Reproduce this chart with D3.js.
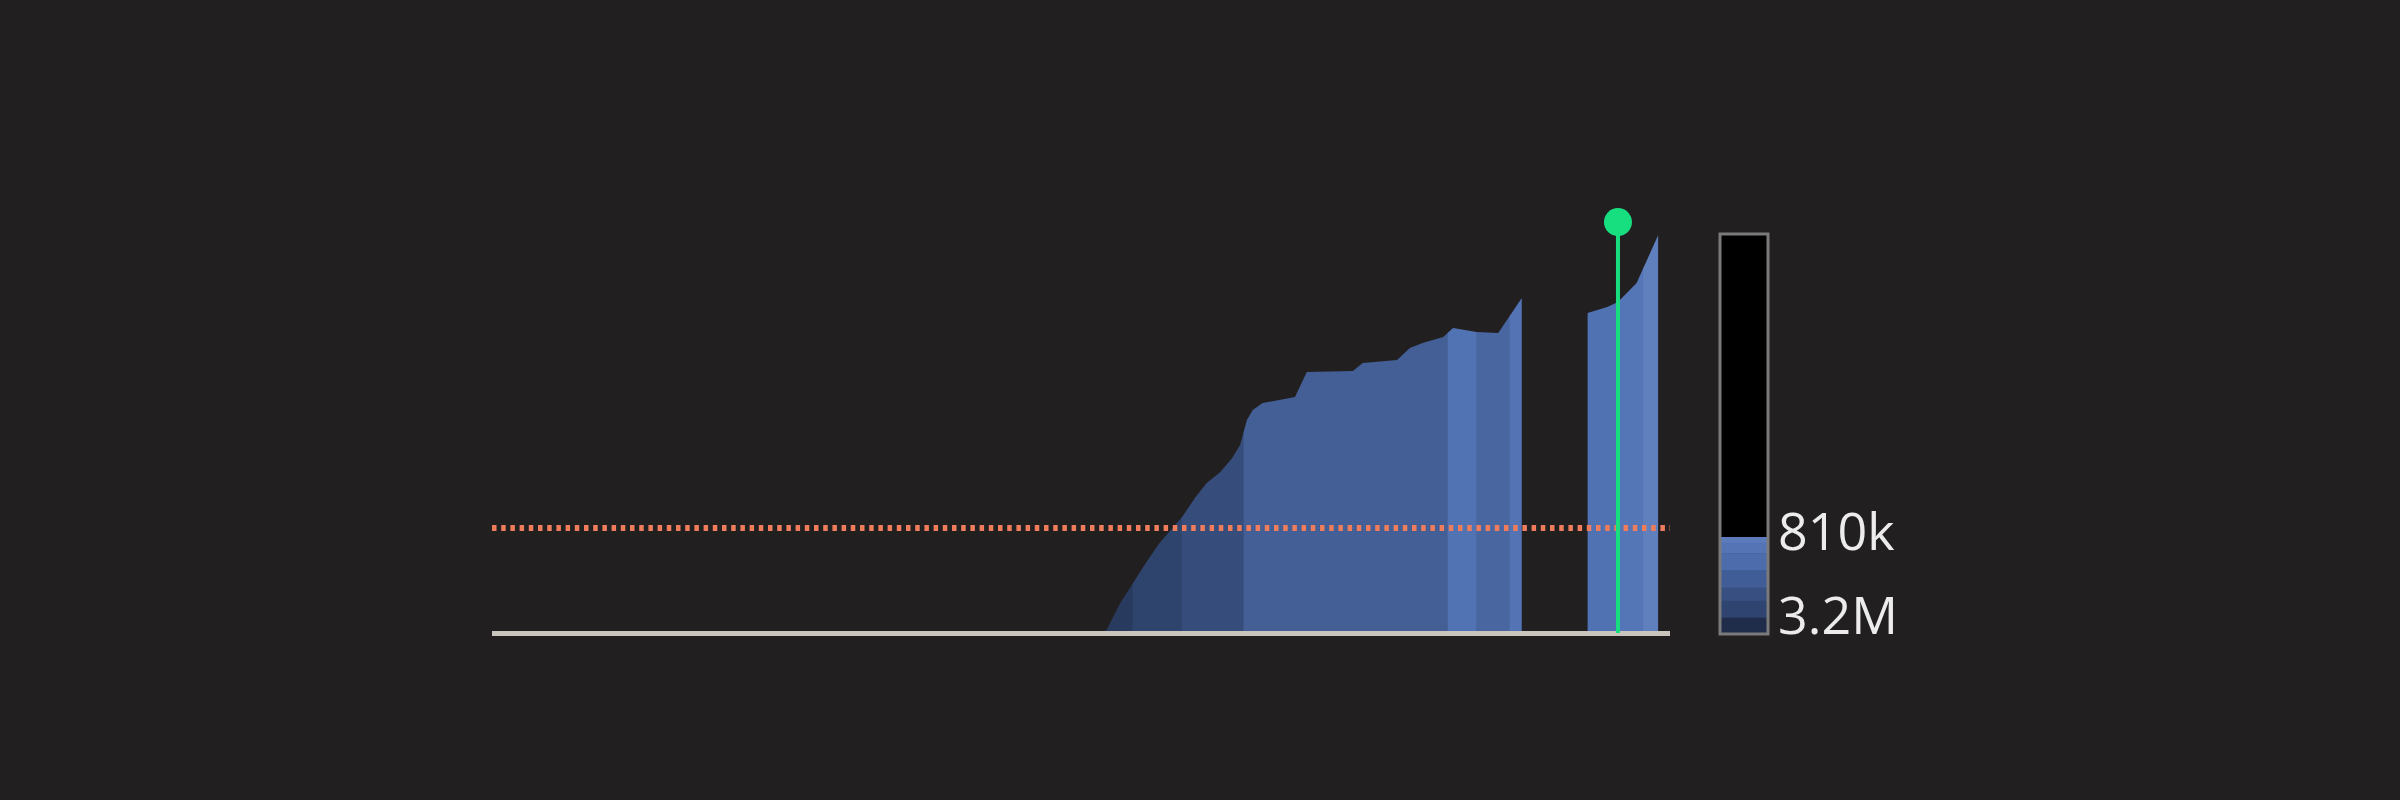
<!DOCTYPE html>
<html>
<head>
  <meta charset="utf-8">
  <script src="https://cdnjs.cloudflare.com/ajax/libs/d3/7.8.5/d3.min.js"></script>
  <style type="text/css">
    body {
      margin: 0;
      background: #221f20;
      font-family: "Open Sans", "Noto Sans", sans-serif;
    }
    svg {
      display: block;
    }
  </style>
</head>
<body>
  <svg id="chart" width="2400" height="800"></svg>
  <script type="text/javascript">

  // series (time index, value in thousands); null marks the gap
  const times  = [59.0, 61.9, 62.6, 64.0, 65.3, 66.6, 68.0, 70.3, 71.6, 72.8, 74.2, 75.4, 76.2, 76.9,
                  77.5, 78.5, 81.8, 83.0, 87.7, 88.7, 92.2, 93.5, 94.8, 96.9, 97.9, 100.3, 102.5, 104.9,
                  108.0,
                  111.6, 113.6, 114.7, 116.6, 118.8];
  const values = [4, 8, 23, 231, 386, 540, 694, 895, 1041, 1157, 1242, 1350, 1450, 1643,
                  1720, 1774, 1821, 2013, 2021, 2083, 2106, 2199, 2237, 2283, 2353, 2322, 2314, 2584,
                  null,
                  2469, 2515, 2553, 2700, 3070];

  // coloured bands along the time axis
  const bandFrom = [59.0, 62.6, 65.3, 70.3, 76.6, 97.4, 100.3, 103.7, 111.6, 114.7, 117.3];
  const bandTo   = [62.6, 65.3, 70.3, 76.6, 97.4, 100.3, 103.7, 104.9, 114.7, 117.3, 118.8];
  const bandColors = ['#262f48', '#283a5e', '#2f446c', '#364c7a', '#445f96', '#5273b3',
                      '#4a66a0', '#5373b4', '#5172b2', '#5576b6', '#5f7fbd'];

  const threshold = 810;          // thousands
  const markerTime = 114.7;
  const markerValue = 3170;

  // legend
  const legendBreaks = [810, 880, 1020, 1300, 1660, 2000, 2540, 3200];
  const legendColors = ['#5b7bbb', '#5474b6', '#4d6cac', '#415d97', '#384f82', '#2f4470', '#1f2c4a'];
  const legendLabels = ['810k', '3.2M'];

  const svg = d3.select('#chart');

  const x = d3.scaleLinear().domain([0, 120]).range([492, 1670]);
  const y = d3.scaleLinear().domain([0, threshold]).range([633, 528]);

  const pts = times.map((t, i) => ({t: t, v: values[i]}));

  const area = d3.area()
    .defined((d) => d.v != null)
    .x((d) => x(d.t))
    .y0(y(0))
    .y1((d) => y(d.v));

  const defs = svg.append('defs');
  const bands = svg.append('g');

  bandFrom.forEach((from, i) => {
    const id = 'band' + i;
    defs.append('clipPath').attr('id', id)
      .append('rect')
      .attr('x', x(from) - 0.4)
      .attr('width', x(bandTo[i]) - x(from) + 0.8)
      .attr('y', 0)
      .attr('height', 800);
    bands.append('path')
      .datum(pts)
      .attr('d', area)
      .attr('fill', bandColors[i])
      .attr('clip-path', `url(#${id})`);
  });

  // threshold line
  svg.append('line')
    .attr('x1', x(0)).attr('x2', x(120))
    .attr('y1', y(threshold)).attr('y2', y(threshold))
    .attr('stroke', '#ef7d5c')
    .attr('stroke-width', 6)
    .attr('stroke-dasharray', '4.5 4.7');

  // baseline
  svg.append('line')
    .attr('x1', x(0)).attr('x2', x(120))
    .attr('y1', y(0) + 0.5).attr('y2', y(0) + 0.5)
    .attr('stroke', '#c9c5bc')
    .attr('stroke-width', 5);

  // marker
  svg.append('line')
    .attr('x1', x(markerTime)).attr('x2', x(markerTime))
    .attr('y1', y(0)).attr('y2', y(markerValue))
    .attr('stroke', '#17df80')
    .attr('stroke-width', 4);
  svg.append('circle')
    .attr('cx', x(markerTime)).attr('cy', y(markerValue))
    .attr('r', 14)
    .attr('fill', '#17df80');

  // colour legend
  const lx = 1720, lw = 48, ltop = 234, lbottom = 634;
  const ly = d3.scaleLog().domain([810, 3200]).range([537, lbottom]);
  const legend = svg.append('g');

  legend.append('rect')
    .attr('x', lx).attr('y', ltop)
    .attr('width', lw).attr('height', lbottom - ltop)
    .attr('fill', '#000');

  legend.selectAll('rect.step')
    .data(legendColors)
    .join('rect')
    .attr('class', 'step')
    .attr('x', lx)
    .attr('y', (d, i) => ly(legendBreaks[i]))
    .attr('width', lw)
    .attr('height', (d, i) => ly(legendBreaks[i + 1]) - ly(legendBreaks[i]) + 0.5)
    .attr('fill', (d) => d);

  legend.append('rect')
    .attr('x', lx).attr('y', ltop)
    .attr('width', lw).attr('height', lbottom - ltop)
    .attr('fill', 'none')
    .attr('stroke', '#7a7a7a')
    .attr('stroke-width', 3);

  legend.selectAll('text')
    .data(legendLabels)
    .join('text')
    .attr('x', lx + lw + 10)
    .attr('y', (d, i) => i === 0 ? 550 : 634)
    .attr('fill', '#ececec')
    .attr('font-size', 52)
    .text((d) => d);
  </script>
</body>
</html>
